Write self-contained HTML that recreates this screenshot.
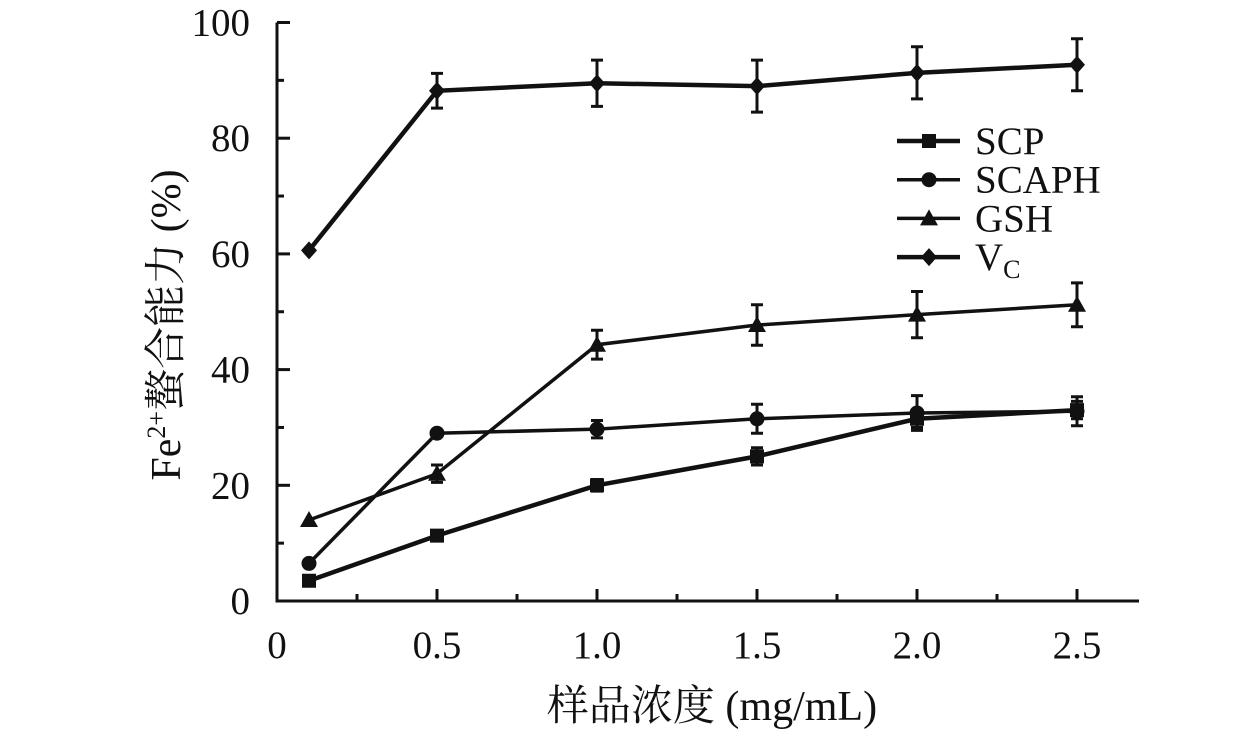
<!DOCTYPE html>
<html><head><meta charset="utf-8"><style>
html,body{margin:0;padding:0;background:#fff;width:1260px;height:730px;overflow:hidden}
text{font-family:"Liberation Serif","Noto Serif CJK SC",serif;fill:#111}
</style></head><body>
<svg id="chart" width="1260" height="730" xmlns="http://www.w3.org/2000/svg"></svg>
<script>
const xVals=[0.1,0.5,1.0,1.5,2.0,2.5];
const scp=[3.5,11.3,20,25,31.5,33];
const scpErr=[0.5,0.8,1,1.5,1.5,1.5];
const scaph=[6.5,29,29.7,31.5,32.5,32.8];
const scaphErr=[0.5,0.5,1.5,2.5,3,2.5];
const gsh=[14,22,44.3,47.7,49.5,51.2];
const gshErr=[0.5,1.5,2.5,3.5,4,3.8];
const vc=[60.6,88.2,89.5,89,91.3,92.7];
const vcErr=[0.5,3,4,4.5,4.5,4.5];
const xTicks=["0","0.5","1.0","1.5","2.0","2.5"];
const xTickVals=[0,0.5,1,1.5,2,2.5];
const yTicks=[0,20,40,60,80,100];

const svg=document.getElementById('chart');
const NS='http://www.w3.org/2000/svg';
const X=v=>277+v*320;
const Y=v=>601-v*5.785;
function mk(tag,attrs,parent){const e=document.createElementNS(NS,tag);for(const k in attrs)e.setAttribute(k,attrs[k]);(parent||svg).appendChild(e);return e;}

const axes=mk('g',{});


mk('path',{d:`M${X(0)} ${Y(100)} H${X(0)} V${Y(0)} H1139`,fill:'none',stroke:'#111','stroke-width':3},axes);
mk('line',{x1:X(0),y1:Y(100),x2:X(0)+13,y2:Y(100),stroke:'#111','stroke-width':3},axes);
for(let v=10;v<100;v+=10){mk('line',{x1:X(0),y1:Y(v),x2:X(0)+(v%20==0?13:7),y2:Y(v),stroke:'#111','stroke-width':3},axes);}
for(let i=1;i<=10;i++){const v=i*0.25;mk('line',{x1:X(v),y1:Y(0),x2:X(v),y2:Y(0)-(i%2==0?12:7),stroke:'#111','stroke-width':3},axes);}
yTicks.forEach(v=>{const t=mk('text',{x:250,y:Y(v)+13,'text-anchor':'end','font-size':39},axes);t.textContent=v;

});
xTicks.forEach((s,i)=>{const t=mk('text',{x:X(xTickVals[i]),y:658,'text-anchor':'middle','font-size':39},axes);t.textContent=s;

});
const xt=mk('text',{x:712,y:720,'text-anchor':'middle','font-size':42});xt.textContent='样品浓度 (mg/mL)';


const yt=mk('text',{x:0,y:0,'text-anchor':'middle','font-size':42,transform:'translate(180 325) rotate(-90)'});
yt.innerHTML='Fe<tspan font-size="26" dy="-15">2+</tspan><tspan dy="15">螯合能力 (%)</tspan>';



function marker(g,shape,cx,cy){
 if(shape==='sq')mk('rect',{x:cx-7,y:cy-7,width:14,height:14,fill:'#111'},g);
 else if(shape==='ci')mk('circle',{cx:cx,cy:cy,r:7.5,fill:'#111'},g);
 else if(shape==='tri')mk('path',{d:`M${cx} ${cy-9} L${cx+9} ${cy+7} L${cx-9} ${cy+7}Z`,fill:'#111'},g);
 else mk('path',{d:`M${cx} ${cy-9} L${cx+8} ${cy} L${cx} ${cy+9} L${cx-8} ${cy}Z`,fill:'#111'},g);
}
const series=[
 {name:'SCP',vals:scp,err:scpErr,shape:'sq',w:4.5},
 {name:'SCAPH',vals:scaph,err:scaphErr,shape:'ci',w:3.5},
 {name:'GSH',vals:gsh,err:gshErr,shape:'tri',w:3.5},
 {name:'VC',vals:vc,err:vcErr,shape:'di',w:4.5}];
series.forEach((s,si)=>{
 const g=mk('g',{});
 
 
 mk('polyline',{points:s.vals.map((v,i)=>X(xVals[i])+','+Y(v)).join(' '),fill:'none',stroke:'#111','stroke-width':s.w},g);
 s.vals.forEach((v,i)=>{
  const cx=X(xVals[i]);
  if(s.err[i]>0.6){const a=Y(v+s.err[i]),b=Y(v-s.err[i]);
   mk('path',{d:`M${cx} ${a}V${b}M${cx-6} ${a}H${cx+6}M${cx-6} ${b}H${cx+6}`,stroke:'#111','stroke-width':3,fill:'none'},g);}
  marker(g,s.shape,cx,Y(v));
 });
 const ly=141+si*38.7;
 const lg=mk('g',{});
 
 
 mk('line',{x1:897,y1:ly,x2:960,y2:ly,stroke:'#111','stroke-width':s.w},lg);
 marker(lg,s.shape,929,ly);
 const t=mk('text',{x:975,y:ly+13,'font-size':39},lg);
 if(s.name==='VC')t.innerHTML='V<tspan font-size="26" dy="8">C</tspan>';else t.textContent=s.name;
});
</script>
</body></html>
